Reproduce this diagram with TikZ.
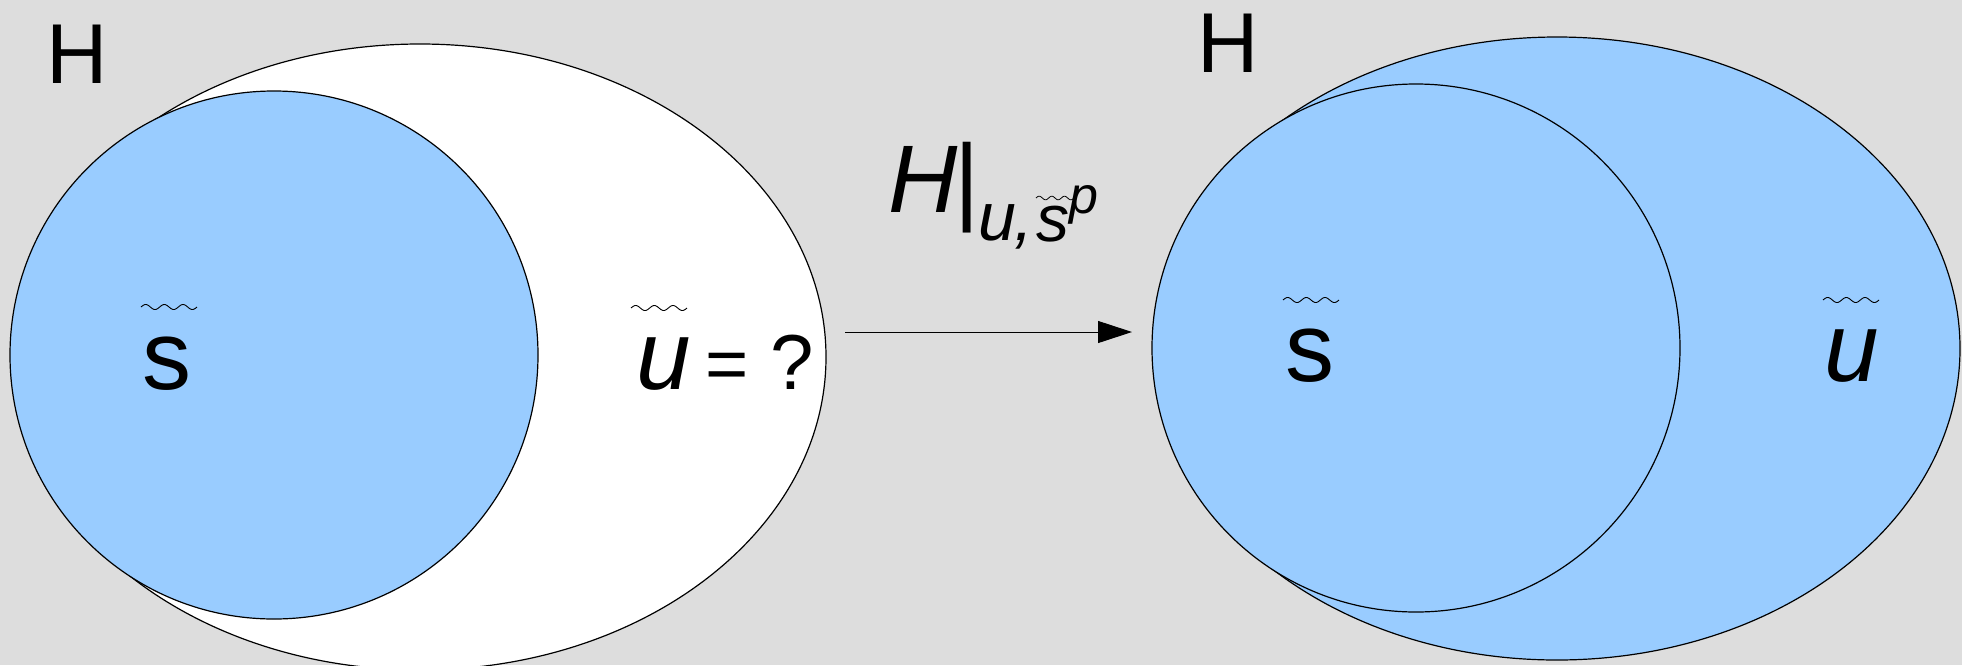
\documentclass[tikz,border=0pt]{standalone}
\usepackage{fontspec}
\setmainfont{Liberation Sans}
\usetikzlibrary{shapes.geometric,arrows.meta}
\definecolor{bgc}{HTML}{DDDDDD}
\definecolor{blu}{HTML}{99CCFF}
\newcommand{\myfs}[1]{\fontsize{#1}{#1}\selectfont}
\tikzset{
  outl/.style={draw=black, line width=1.2pt, inner sep=0pt},
  ell/.style={outl, ellipse},
  circ/.style={outl, circle},
  txt/.style={inner sep=0pt, anchor=base, text=black},
  wavebig/.pic={\draw[line width=0.9pt] plot[domain=0:56,samples=80,smooth] (\x,{-2.5*sin(\x*19.28)});},
  wavesmall/.pic={\draw[line width=0.8pt] plot[domain=0:38,samples=60,smooth] (\x,{-1.8*sin(\x*28.41)});}
}
\begin{document}
\begin{tikzpicture}[x=1pt,y=-1pt]
\useasboundingbox (0,0) rectangle (1962,665);
\fill[bgc] (0,0) rectangle (1962,665);
% left group
\node[ell, fill=white, minimum width=812pt, minimum height=626pt] (E1) at (420,357) {};
\node[circ, fill=blu, minimum size=528pt] (C1) at (274,355) {};
% right group
\node[ell, fill=blu, minimum width=806pt, minimum height=623pt] (E2) at (1557,348.5) {};
\node[circ, fill=blu, minimum size=528pt] (C2) at (1416,348) {};
% arrow
\coordinate (a1) at (845,332);
\coordinate (a2) at (1132,332);
\draw[line width=1pt, -{Triangle[length=34pt,width=22pt]}] (a1) -- (a2);
% H labels
\node[txt] (H1) at (77.5,83) {\myfs{85}H};
\node[txt] (H2) at (1228,72) {\myfs{85}H};
% left labels
\pic at (141,307) {wavebig};
\node[txt] (s1) at (167,389) {\myfs{98}s};
\pic at (631,308) {wavebig};
\node[txt] (u1) at (664,389) {\myfs{98}\itshape u};
\node[txt] (eq) at (727,389) {\myfs{74}=};
\node[txt] (qm) at (792,389) {\myfs{78}?};
% right labels
\pic at (1283,300) {wavebig};
\node[txt] (s2) at (1310,381) {\myfs{98}s};
\pic at (1823,300) {wavebig};
\node[txt] (u2) at (1852,381) {\myfs{98}\itshape u};
% arrow label
\node[txt] (LH) at (923,212) {\myfs{96}\itshape H};
\node[txt] (LB) at (967.5,212) {\myfs{97}|};
\node[txt] (Lu) at (997,240) {\myfs{68}\itshape u};
\node[txt] (Lc) at (1024,240) {\myfs{68}\itshape ,};
\pic at (1036,198) {wavesmall};
\node[txt] (Ls) at (1053,241) {\myfs{66}\itshape s};
\node[txt] (Lp) at (1084,213) {\myfs{52}\itshape p};
\end{tikzpicture}
\end{document}
